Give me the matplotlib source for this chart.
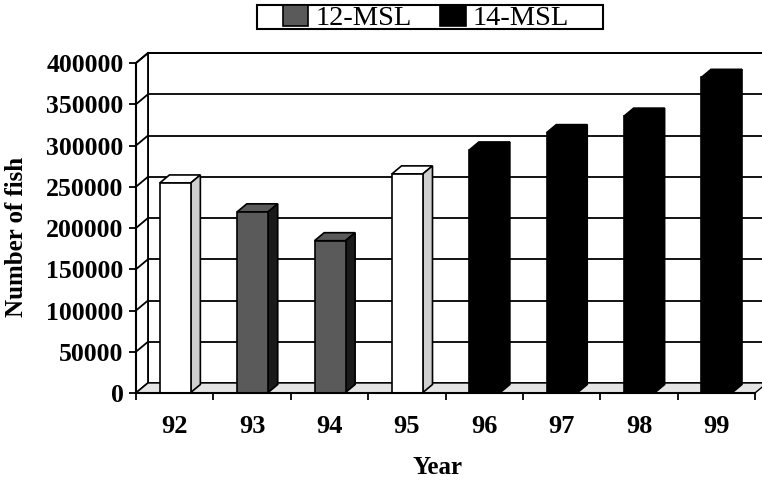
import matplotlib
matplotlib.use('Agg')
import matplotlib.pyplot as plt
from matplotlib.patches import Polygon, Patch, Rectangle
import numpy as np

# ---- data ----
years = ['92', '93', '94', '95', '96', '97', '98', '99']
fish = [254000, 219000, 184000, 265000, 294000, 315000, 335000, 382000]
rule = ['none', '12-MSL', '12-MSL', 'none', '14-MSL', '14-MSL', '14-MSL', '14-MSL']
legend_labels = ['12-MSL', '14-MSL']
yticks = [0, 50000, 100000, 150000, 200000, 250000, 300000, 350000, 400000]

front_col = {'none': 'white', '12-MSL': '#5a5a5a', '14-MSL': 'black'}
top_col = {'none': 'white', '12-MSL': '#5a5a5a', '14-MSL': 'black'}
side_col = {'none': '#cfcfcf', '12-MSL': '#1a1a1a', '14-MSL': 'black'}

plt.rcParams['font.family'] = ['Liberation Serif', 'DejaVu Serif']

W, H = 762, 484
fig = plt.figure(figsize=(W / 100, H / 100), dpi=100)
L, R, B, T = 136, 755, 393, 63
ax = fig.add_axes([L / W, 1 - B / H, (R - L) / W, (B - T) / H])
n = len(years)
ymax = yticks[-1]
ax.set_xlim(0, n)
ax.set_ylim(0, ymax)
ax.patch.set_visible(False)

pxx = (R - L) / n
pxy = (B - T) / ymax
DX = 12 / pxx
DY = 10 / pxy

lw = 1.3
# back wall
ax.add_patch(Polygon([(DX, DY), (n + DX, DY), (n + DX, ymax + DY), (DX, ymax + DY)],
                     closed=True, facecolor='white', edgecolor='black', lw=lw,
                     clip_on=False, zorder=1))
for v in yticks[1:]:
    ax.plot([DX, n + DX], [v + DY, v + DY], color='black', lw=lw, clip_on=False, zorder=1.5)
# left wall
ax.add_patch(Polygon([(0, 0), (0, ymax), (DX, ymax + DY), (DX, DY)], closed=True,
                     facecolor='white', edgecolor='black', lw=lw, clip_on=False, zorder=1.6))
for v in yticks:
    ax.plot([0, DX], [v, v + DY], color='black', lw=lw, clip_on=False, zorder=1.7)
# floor
ax.add_patch(Polygon([(0, 0), (n, 0), (n + DX, DY), (DX, DY)], closed=True,
                     facecolor='#e4e4e4', edgecolor='black', lw=1.0, clip_on=False, zorder=1.8))

# bars
f0 = 0.05
fb = 0.8
ddx, ddy = fb * DX, fb * DY
bw = 0.4
xc = np.arange(n) + 0.5 + f0 * DX
bars = ax.bar(xc, fish, width=bw, bottom=f0 * DY,
              color=[front_col[r] for r in rule], edgecolor='black', lw=1.2,
              zorder=4, clip_on=False)
for x, v, r in zip(xc, fish, rule):
    x0, x1 = x - bw / 2, x + bw / 2
    y0, y1 = f0 * DY, f0 * DY + v
    ax.add_patch(Polygon([(x0, y1), (x1, y1), (x1 + ddx, y1 + ddy), (x0 + ddx, y1 + ddy)],
                         closed=True, facecolor=top_col[r], edgecolor='black', lw=1.2,
                         zorder=3, clip_on=False))
    ax.add_patch(Polygon([(x1, y0), (x1 + ddx, y0 + ddy), (x1 + ddx, y1 + ddy), (x1, y1)],
                         closed=True, facecolor=side_col[r], edgecolor='black', lw=1.2,
                         zorder=3, clip_on=False))

# axes styling
for s in ['top', 'right']:
    ax.spines[s].set_visible(False)
for s in ['left', 'bottom']:
    ax.spines[s].set_linewidth(1.5)
    ax.spines[s].set_zorder(5)

ax.set_yticks(yticks)
ax.set_yticklabels([str(v) for v in yticks])
ax.tick_params(axis='y', direction='out', length=5, width=1.3, pad=4,
               labelsize=18.5)
for t in ax.get_yticklabels():
    t.set_fontweight('bold')
ax.set_xticks(np.arange(n + 1))
ax.set_xticklabels([])
ax.set_xticks(np.arange(n) + 0.5, minor=True)
ax.set_xticklabels(years, minor=True)
ax.tick_params(axis='x', which='major', direction='out', length=5, width=1.3)
ax.tick_params(axis='x', which='minor', length=0, pad=16, labelsize=19)
for t in ax.get_xticklabels(minor=True):
    t.set_fontweight('bold')

ax.set_xlabel('Year', fontsize=18, fontweight='bold')
ax.xaxis.set_label_coords((437 - L) / (R - L), (B - 467) / (B - T))
ax.xaxis.label.set_va('center')
ax.set_ylabel('Number of fish', fontsize=18, fontweight='bold')
ax.yaxis.set_label_coords((17 - L) / (R - L), (B - 237) / (B - T))
ax.yaxis.label.set_va('center')

# legend (frame drawn separately to match the wide box of the original)
fig.patches.append(Rectangle((257 / W, 1 - 29 / H), 346 / W, 24 / H,
                             transform=fig.transFigure, fill=True, facecolor='white',
                             edgecolor='black', lw=1.5, zorder=0))
handles = [Patch(facecolor=front_col[l], edgecolor='black', lw=1.2) for l in legend_labels]
leg = fig.legend(handles, legend_labels, loc='center', ncol=2,
                 bbox_to_anchor=(426 / W, 1 - 18 / H), fontsize=20.5,
                 frameon=False, borderpad=0.0, handlelength=0.9,
                 handleheight=0.8, handletextpad=0.25, columnspacing=1.0,
                 borderaxespad=0)

fig.savefig('out.png', dpi=100)
